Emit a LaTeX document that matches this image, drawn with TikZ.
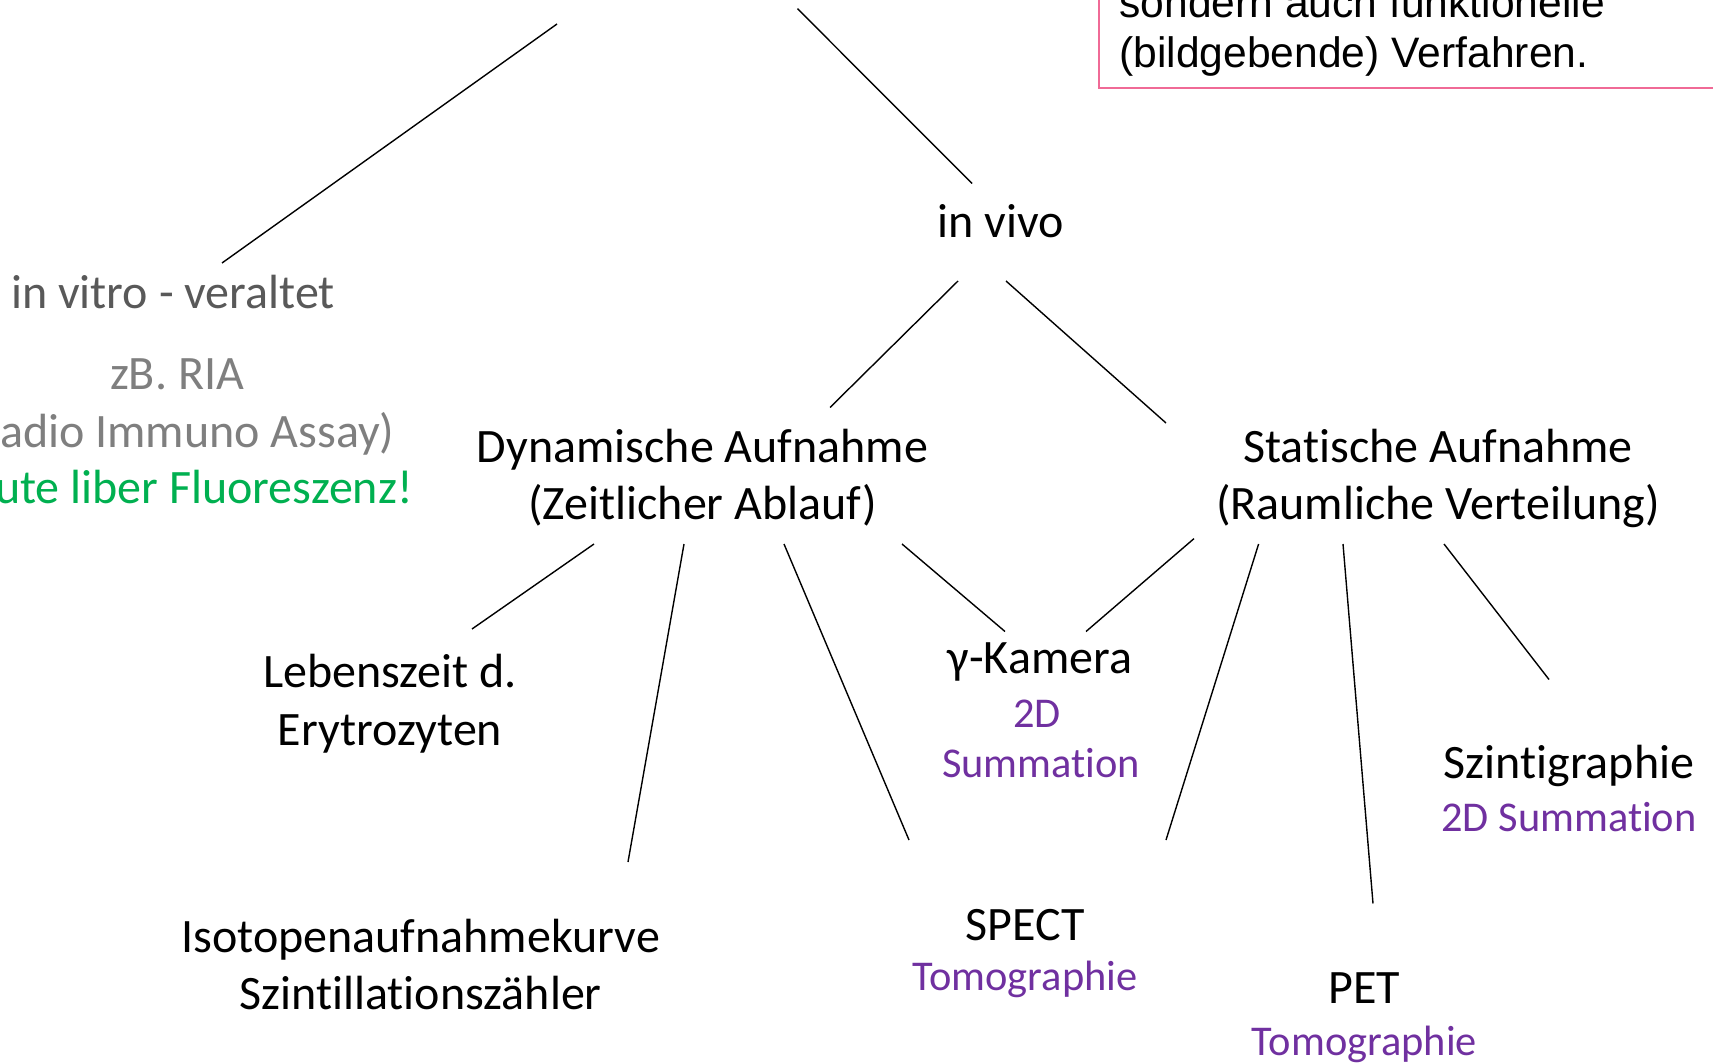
\documentclass[tikz,border=0pt]{standalone}
\usepackage{fontspec}
\setmainfont{Carlito}[Ligatures={NoCommon}]
\newfontfamily\arialf{Liberation Sans}
\definecolor{ppl}{HTML}{7030A0}
\definecolor{grn}{HTML}{00B050}
\definecolor{dgray}{HTML}{595959}
\definecolor{lgray}{HTML}{7F7F7F}
\definecolor{pinkb}{HTML}{F06A96}
\begin{document}
\begin{tikzpicture}[x=0.5pt,y=-0.5pt,
  blk/.style={inner sep=0pt,anchor=base,font=\fontsize{24pt}{29pt}\selectfont,text=black},
  pur/.style={inner sep=0pt,anchor=base,font=\fontsize{21.2pt}{25pt}\selectfont,text=ppl},
  conn/.style={draw=black,line width=0.7pt},
  boxtxt/.style={inner sep=0pt,anchor=base west,font=\arialf\fontsize{21.3pt}{25pt}\selectfont}]
\useasboundingbox (0,0) rectangle (1713,1064);
\clip (0,0) rectangle (1713,1064);
\fill[white] (0,0) rectangle (1713,1064);
% note box
\draw[pinkb,line width=1pt,fill=white] (1099,-60) rectangle (1760,88.5);
\node[boxtxt] (bx1) at (1119,18) {sondern auch funktionelle};
\node[boxtxt] (bx2) at (1119,68) {(bildgebende) Verfahren.};
% texts
\node[blk] (vivo) at (1001,238) {in vivo};
\node[blk,text=dgray] (vitro) at (173,308) {in vitro - veraltet};
\node[blk,text=lgray] (ria) at (177,389) {zB. RIA};
\node[blk,text=lgray] (ria2) at (177,447) {(Radio Immuno Assay)};
\node[blk,text=grn] (fluo) at (177,503) {Heute liber Fluoreszenz!};
\node[blk] (dyn1) at (702.5,462) {Dynamische Aufnahme};
\node[blk] (dyn2) at (702.5,519) {(Zeitlicher Ablauf)};
\node[blk] (sta1) at (1438,462) {Statische Aufnahme};
\node[blk] (sta2) at (1438,519) {(Raumliche Verteilung)};
\node[blk] (leb1) at (390,687) {Lebenszeit d.};
\node[blk] (leb2) at (390,745) {Erytrozyten};
\node[blk] (iso1) at (420.6,952) {Isotopenaufnahmekurve};
\node[blk] (iso2) at (420.6,1009) {Szintillationszähler};
\node[blk] (gam) at (1040,673) {γ-Kamera};
\node[pur] (gam2) at (1037,727) {2D};
\node[pur] (gam3) at (1041,777) {Summation};
\node[blk] (szi) at (1569,778) {Szintigraphie};
\node[pur] (szi2) at (1569,831) {2D Summation};
\node[blk] (spe) at (1025,940) {SPECT};
\node[pur] (spe2) at (1025,990) {Tomographie};
\node[blk] (pet) at (1364.5,1003) {PET};
\node[pur] (pet2) at (1364.5,1055) {Tomographie};
% connector end points
\coordinate (t1) at (557,24);   \coordinate (t1b) at (222,263);
\coordinate (t2) at (797.5,8.7); \coordinate (t2b) at (972,183.5);
\coordinate (v1) at (958,281);  \coordinate (v1b) at (830,407.5);
\coordinate (v2) at (1006,281); \coordinate (v2b) at (1166,423);
\coordinate (d1) at (594,544);  \coordinate (d1b) at (472,629);
\coordinate (d2) at (684,544);  \coordinate (d2b) at (628,862);
\coordinate (d3) at (784,544);  \coordinate (d3b) at (909,840);
\coordinate (d4) at (902,544);  \coordinate (d4b) at (1005,631.5);
\coordinate (s1) at (1194,538.6); \coordinate (s1b) at (1086,631.5);
\coordinate (s2) at (1258.6,544); \coordinate (s2b) at (1166,840);
\coordinate (s3) at (1343,544); \coordinate (s3b) at (1373,903.5);
\coordinate (s4) at (1444,544); \coordinate (s4b) at (1549,679.5);
\foreach \a/\b in {t1/t1b,t2/t2b,v1/v1b,v2/v2b,d1/d1b,d2/d2b,d3/d3b,d4/d4b,s1/s1b,s2/s2b,s3/s3b,s4/s4b}
  \draw[conn] (\a) -- (\b);
\end{tikzpicture}
\end{document}
